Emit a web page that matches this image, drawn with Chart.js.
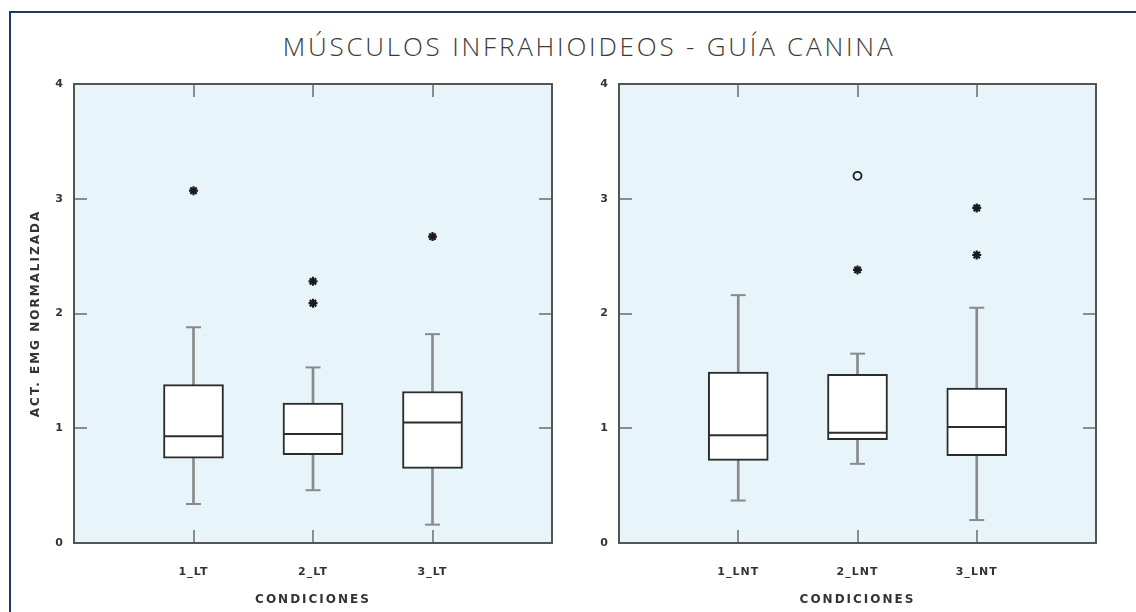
<!DOCTYPE html>
<html><head><meta charset="utf-8">
<script src="https://cdn.jsdelivr.net/npm/chart.js@4.4.1/dist/chart.umd.min.js"></script>
<style>
html,body{margin:0;padding:0;background:#fff;width:1136px;height:612px;overflow:hidden;}
#frame{position:absolute;left:9px;top:11px;width:1200px;height:700px;border-left:2px solid #1b3a66;border-top:2px solid #1b3a66;}
#title{position:absolute;left:0;top:33px;width:1178px;text-align:center;font-family:'Open Sans',sans-serif;font-weight:300;font-size:26px;line-height:26px;letter-spacing:2.8px;color:#3a3a3a;white-space:nowrap;}
#w1{position:absolute;left:0;top:70px;width:570px;height:542px;}
#w2{position:absolute;left:570px;top:70px;width:566px;height:542px;}
canvas{display:block;}
</style></head><body>
<div id="frame"></div>
<div id="title">MÚSCULOS INFRAHIOIDEOS - GUÍA CANINA</div>
<div id="w1"><canvas id="c1" width="570" height="542" style="width:570px;height:542px"></canvas></div>
<div id="w2"><canvas id="c2" width="566" height="542" style="width:566px;height:542px"></canvas></div>
<script>
const yAxisTitle = 'ACT. EMG NORMALIZADA';
const xAxisTitle = 'CONDICIONES';

const categoriesLT = ['1_LT', '2_LT', '3_LT'];
const lowLT     = [0.34, 0.46, 0.16];
const q1LT      = [0.74, 0.77, 0.65];
const medianLT  = [0.93, 0.95, 1.05];
const q3LT      = [1.38, 1.22, 1.32];
const highLT    = [1.88, 1.53, 1.82];
const extremeLT = [[3.07], [2.28, 2.09], [2.67]];
const outlierLT = [[], [], []];

const categoriesLNT = ['1_LNT', '2_LNT', '3_LNT'];
const lowLNT     = [0.37, 0.69, 0.20];
const q1LNT      = [0.72, 0.90, 0.76];
const medianLNT  = [0.94, 0.96, 1.01];
const q3LNT      = [1.49, 1.47, 1.35];
const highLNT    = [2.16, 1.65, 2.05];
const extremeLNT = [[], [2.38], [2.92, 2.51]];
const outlierLNT = [[], [3.20], []];

const TEXT = '#333333';
const WHISK = '#8a8a8a';
const labelFont = {family: "'DejaVu Sans'", weight: 'bold', size: 11};
const titleFont = {family: "'DejaVu Sans'", weight: 'bold', size: 12};

function noPad(s) {
  s.paddingTop = 0; s.paddingBottom = 0; s.paddingLeft = 0; s.paddingRight = 0;
}

const panelPlugin = {
  id: 'panel',
  beforeDraw(chart) {
    const {ctx, chartArea: a} = chart;
    ctx.save();
    ctx.fillStyle = '#E7F4FA';
    ctx.fillRect(a.left, a.top, a.right - a.left, a.bottom - a.top);
    ctx.restore();
    ctx.letterSpacing = '2px';
  },
  afterDatasetsDraw(chart) {
    const {ctx, chartArea: a, scales: {x, y}} = chart;
    ctx.save();
    ctx.strokeStyle = '#8c8c8c';
    ctx.lineWidth = 2;
    ctx.beginPath();
    y.ticks.forEach(t => {
      if (t.value > y.min && t.value < y.max) {
        const py = Math.round(y.getPixelForValue(t.value));
        ctx.moveTo(a.left, py); ctx.lineTo(a.left + 13, py);
        ctx.moveTo(a.right, py); ctx.lineTo(a.right - 13, py);
      }
    });
    x.ticks.forEach(t => {
      if (t.value > x.min && t.value < x.max) {
        const px = Math.round(x.getPixelForValue(t.value));
        ctx.moveTo(px, a.bottom); ctx.lineTo(px, a.bottom - 13);
        ctx.moveTo(px, a.top); ctx.lineTo(px, a.top + 13);
      }
    });
    ctx.stroke();
    ctx.strokeStyle = '#555555';
    ctx.lineWidth = 2;
    ctx.strokeRect(a.left, a.top, a.right - a.left, a.bottom - a.top);
    ctx.restore();
    ctx.letterSpacing = '1px';
  }
};

function makeChart(id, cats, low, q1, med, q3, high, extreme, outlier, yWidth, padRight, showYTitle) {
  const pos = cats.map((c, i) => i + 1);
  const boxes = pos.map((p, i) => ({x: p, y: [q1[i], q3[i]]}));
  const lowerW = pos.map((p, i) => ({x: p, y: [low[i], q1[i]]}));
  const upperW = pos.map((p, i) => ({x: p, y: [q3[i], high[i]]}));
  const caps = pos.flatMap((p, i) => [{x: p, y: low[i]}, {x: p, y: high[i]}]);
  const medians = pos.map((p, i) => ({x: p, y: med[i]}));
  const stars = pos.flatMap((p, i) => extreme[i].map(v => ({x: p, y: v})));
  const circles = pos.flatMap((p, i) => outlier[i].map(v => ({x: p, y: v})));

  return new Chart(document.getElementById(id), {
    type: 'bar',
    data: {
      datasets: [
        {type: 'scatter', data: medians, order: 0, pointStyle: 'line', pointRadius: 29, pointHoverRadius: 29,
         pointBorderColor: '#2b2b2b', pointBorderWidth: 2, pointBackgroundColor: '#2b2b2b'},
        {type: 'scatter', data: stars, order: 0, pointStyle: 'star', pointRadius: 4.5, pointHoverRadius: 4.5,
         pointBorderColor: '#1a1a1a', pointBorderWidth: 2.2, pointBackgroundColor: '#1a1a1a'},
        {type: 'scatter', data: circles, order: 0, pointStyle: 'circle', pointRadius: 4, pointHoverRadius: 4,
         pointBorderColor: '#1e1e1e', pointBorderWidth: 1.8, pointBackgroundColor: 'rgba(0,0,0,0)'},
        {type: 'bar', data: boxes, order: 1, grouped: false, barThickness: 60,
         backgroundColor: '#ffffff', borderColor: '#2b2b2b', borderWidth: 2, borderSkipped: false},
        {type: 'bar', data: lowerW, order: 2, grouped: false, barThickness: 2,
         backgroundColor: WHISK, borderWidth: 0},
        {type: 'bar', data: upperW, order: 2, grouped: false, barThickness: 2,
         backgroundColor: WHISK, borderWidth: 0},
        {type: 'scatter', data: caps, order: 2, pointStyle: 'line', pointRadius: 7.5, pointHoverRadius: 7.5,
         pointBorderColor: WHISK, pointBorderWidth: 2, pointBackgroundColor: WHISK}
      ]
    },
    options: {
      responsive: false,
      animation: false,
      devicePixelRatio: 1,
      layout: {autoPadding: false, padding: {left: 0, top: 14, right: padRight, bottom: 0}},
      plugins: {legend: {display: false}, tooltip: {enabled: false}},
      events: [],
      scales: {
        x: {
          type: 'linear', min: 0, max: 4, offset: false,
          afterFit: s => { s.height = 69; noPad(s); },
          grid: {display: false, drawTicks: false, offset: false},
          border: {display: false},
          ticks: {stepSize: 1, autoSkip: false, maxRotation: 0, padding: 23, z: 1, color: TEXT, font: labelFont,
                  callback: v => (cats[v - 1] !== undefined ? cats[v - 1] : '')},
          title: {display: true, text: xAxisTitle, color: TEXT, font: titleFont, padding: {top: 0, bottom: 5}}
        },
        y: {
          type: 'linear', min: 0, max: 4,
          afterFit: s => { s.width = yWidth; noPad(s); },
          grid: {display: false, drawTicks: false},
          border: {display: false},
          ticks: {stepSize: 1, padding: 10, z: 1, color: TEXT, font: labelFont},
          title: {display: showYTitle, text: yAxisTitle, color: TEXT, font: titleFont, padding: {top: 29, bottom: 0}}
        }
      }
    },
    plugins: [panelPlugin]
  });
}

makeChart('c1', categoriesLT, lowLT, q1LT, medianLT, q3LT, highLT, extremeLT, outlierLT, 74, 18, true);
makeChart('c2', categoriesLNT, lowLNT, q1LNT, medianLNT, q3LNT, highLNT, extremeLNT, outlierLNT, 49, 40, false);
</script>
</body></html>
